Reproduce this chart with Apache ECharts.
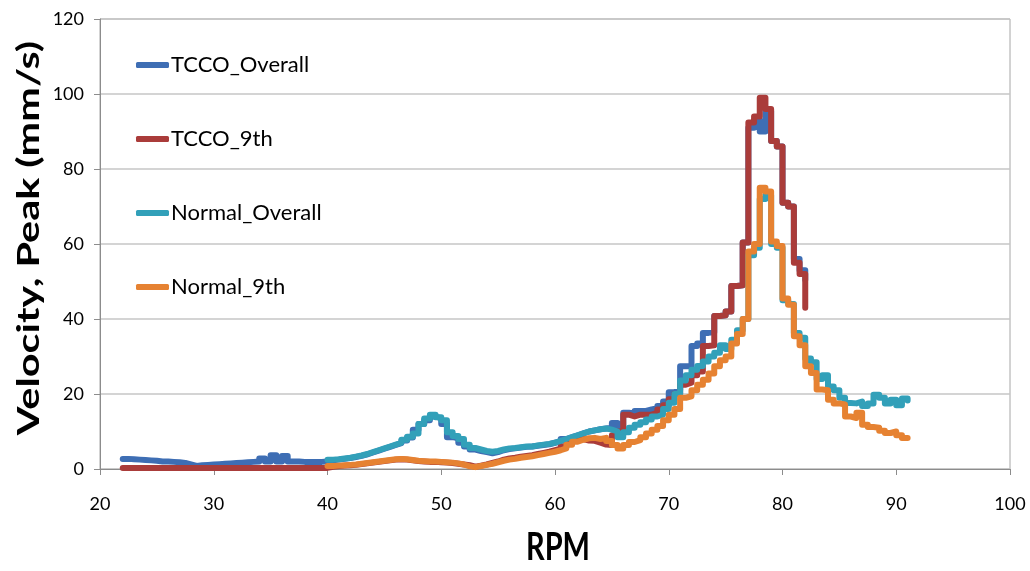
<!DOCTYPE html>
<html>
<head>
<meta charset="utf-8">
<script src="https://cdn.jsdelivr.net/npm/echarts@6/dist/echarts.min.js"></script>
<style>html,body{margin:0;padding:0;background:#fff}#c{width:1030px;height:571px}</style>
</head>
<body>
<div id="c"></div>
<script>
const seriesNames = ['TCCO_Overall', 'TCCO_9th', 'Normal_Overall', 'Normal_9th'];
const xTitle = 'RPM';
const yTitle = 'Velocity, Peak (mm/s)';
const xTicks = [20, 30, 40, 50, 60, 70, 80, 90, 100];
const yTicks = [0, 20, 40, 60, 80, 100, 120];

const rpmTcco = [22,22.5,23,23.5,24,24.5,25,25.5,26,26.5,27,27.5,28,28.5,29,29.5,30,30.5,31,31.5,32,32.5,33,33.5,34,34.5,35,35.5,36,36.5,37,37.5,38,38.5,39,39.5,
  40,40.5,41,41.5,42,42.5,43,43.5,44,44.5,45,45.5,46,46.5,47,47.5,48,48.5,49,49.5,50,50.5,51,51.5,52,52.5,53,53.5,54,54.5,55,55.5,56,56.5,57,57.5,58,58.5,59,59.5,
  60,60.5,61,61.5,62,62.5,63,63.5,64,64.5,65,65.5,66,66.5,67,67.5,68,68.5,69,69.5,70,70.5,71,71.5,72,72.5,73,73.5,74,74.5,75,75.5,76,76.5,77,77.5,78,78.5,79,79.5,
  80,80.5,81,81.5,82];

const tccoOverall = [2.7,2.6,2.5,2.4,2.3,2.2,2.0,2.0,1.9,1.8,1.6,1.2,0.8,1.0,1.1,1.2,1.3,1.4,1.5,1.6,1.7,1.8,1.9,2.0,2.8,2.0,3.7,2.0,3.5,2.0,2.0,1.9,1.9,1.9,1.9,2.0,
  2.3,2.5,2.7,2.9,3.2,3.5,3.9,4.4,4.9,5.4,5.9,6.4,6.9,7.6,8.4,10.5,12.0,13.0,14.0,13.5,12.0,8.5,8.2,7.0,6.0,5.2,4.8,4.5,4.2,4.5,5.0,5.3,5.5,5.7,5.9,6.0,6.2,6.4,6.6,7.0,
  7.4,8.0,8.5,9.0,9.5,10.0,10.3,10.6,10.8,11.0,12.3,10.5,15.0,14.8,15.5,15.5,15.9,16.2,16.8,18.0,20.5,21.0,27.4,27.4,32.8,33.5,36.3,36.5,40.8,41.0,42.0,48.8,49.0,60.4,91.0,93.0,90.0,95.5,87.5,86.0,
  71.0,70.0,56.0,53.0,50.5];

const tccoNinth = [0.3,0.3,0.3,0.3,0.3,0.3,0.3,0.3,0.3,0.3,0.3,0.3,0.3,0.3,0.3,0.3,0.3,0.3,0.3,0.3,0.3,0.3,0.3,0.3,0.3,0.3,0.3,0.3,0.3,0.3,0.3,0.3,0.3,0.3,0.3,0.3,
  0.6,0.8,0.9,1.0,1.1,1.3,1.5,1.7,1.9,2.1,2.3,2.5,2.6,2.5,2.3,2.1,2.0,1.9,1.9,1.8,1.7,1.6,1.4,1.2,1.0,0.6,0.9,1.2,1.6,2.0,2.5,2.8,3.0,3.3,3.5,3.7,4.0,4.3,4.6,5.0,
  5.4,6.0,7.0,7.7,8.0,7.6,7.5,7.0,6.5,6.4,9.0,10.0,14.5,14.0,14.5,14.5,14.5,15.0,15.9,17.0,18.6,20.0,22.5,23.0,25.0,26.0,32.8,33.0,40.8,41.0,42.0,48.8,49.0,60.4,92.4,94.0,99.0,96.0,87.5,86.0,
  71.0,70.0,55.0,52.0,43.0];

const rpmNormal = [40,40.5,41,41.5,42,42.5,43,43.5,44,44.5,45,45.5,46,46.5,47,47.5,48,48.5,49,49.5,50,50.5,51,51.5,52,52.5,53,53.5,54,54.5,55,55.5,56,56.5,57,57.5,58,58.5,59,59.5,
  60,60.5,61,61.5,62,62.5,63,63.5,64,64.5,65,65.5,66,66.5,67,67.5,68,68.5,69,69.5,70,70.5,71,71.5,72,72.5,73,73.5,74,74.5,75,75.5,76,76.5,77,77.5,78,78.5,79,79.5,
  80,80.5,81,81.5,82,82.5,83,83.5,84,84.5,85,85.5,86,86.5,87,87.5,88,88.5,89,89.5,90,90.5,91];

const normalOverall = [2.5,2.6,2.8,3.0,3.3,3.6,4.0,4.5,5.0,5.5,6.0,6.5,7.0,7.8,8.6,9.5,12.0,13.5,14.5,13.8,13.0,9.8,8.8,8.0,6.5,5.6,5.2,4.8,4.6,4.8,5.2,5.5,5.6,5.8,6.0,6.0,6.3,6.5,6.7,7.0,
  7.5,8.0,8.5,9.0,9.5,10.0,10.3,10.6,10.8,10.5,10.0,8.5,9.8,11.0,11.8,12.5,13.2,14.0,14.5,16.0,17.7,20.0,23.6,25.0,26.5,27.5,28.7,30.0,31.0,33.0,32.0,34.5,37.0,40.0,57.0,59.0,72.0,73.0,60.0,59.0,
  45.0,44.0,36.3,35.0,29.5,28.5,24.0,25.0,22.0,21.0,19.0,17.6,17.5,18.0,16.8,17.5,19.8,19.0,17.5,18.5,17.0,18.8,18.3];

const normalNinth = [0.8,0.9,1.0,1.1,1.2,1.4,1.6,1.8,2.0,2.2,2.4,2.6,2.7,2.6,2.4,2.2,2.1,2.0,2.0,1.9,1.8,1.7,1.5,1.2,0.7,0.5,0.8,1.1,1.4,1.8,2.2,2.5,2.7,3.0,3.2,3.4,3.7,4.0,4.3,4.6,
  5.0,5.5,6.5,7.3,7.8,8.2,8.3,8.0,8.3,7.5,6.4,5.5,6.4,7.2,7.7,8.5,9.5,10.5,11.5,13.0,14.5,16.0,19.0,19.4,21.0,22.5,23.8,25.5,27.4,29.0,30.0,33.5,36.0,40.0,58.0,60.0,75.0,74.0,60.7,59.5,
  45.5,43.8,35.4,33.0,27.4,25.6,21.2,21.0,18.5,17.5,17.2,14.0,13.6,15.0,11.8,11.2,11.0,10.2,9.6,10.0,9.0,8.3,8.3];

const colors = ['#3E6EB4', '#AA3C3A', '#32A0B9', '#E68232'];

function zip(xs, ys) { return xs.map((x, i) => [x, ys[i]]); }

const FONT = 'Lato';
const chart = echarts.init(document.getElementById('c'), null, {renderer: 'canvas'});
const dataSets = [zip(rpmTcco, tccoOverall), zip(rpmTcco, tccoNinth), zip(rpmNormal, normalOverall), zip(rpmNormal, normalNinth)];

chart.setOption({
  animation: false,
  backgroundColor: '#fff',
  color: colors,
  grid: {left: 100, top: 19, width: 910, height: 450, show: true, borderColor: '#a6a6a6', borderWidth: 1, backgroundColor: 'transparent'},
  legend: {
    orient: 'vertical', left: 131, top: 49, itemGap: 52,
    itemWidth: 33, itemHeight: 6, icon: 'roundRect',
    textStyle: {fontFamily: FONT, fontSize: 22, color: '#000', padding: [0, 0, 0, -3]},
    data: seriesNames
  },
  graphic: [
    {type: 'text', x: 558, y: 548, scaleY: 1.3,
      style: {text: xTitle, font: 'bold 29px Lato', fill: '#000', textAlign: 'center', textVerticalAlign: 'middle'}},
    {type: 'text', x: 29, y: 238, rotation: Math.PI / 2, scaleX: 1.38,
      style: {text: yTitle, font: 'bold 30px Lato', fill: '#000', textAlign: 'center', textVerticalAlign: 'middle'}}
  ],
  xAxis: {
    type: 'value', min: xTicks[0], max: xTicks[xTicks.length - 1], interval: 10,
    axisLine: {show: true, lineStyle: {color: '#8c8c8c', width: 1}},
    axisTick: {show: true, inside: false, length: 6, lineStyle: {color: '#8c8c8c'}},
    axisLabel: {fontFamily: FONT, fontSize: 18, color: '#000', margin: 26},
    splitLine: {show: false}
  },
  yAxis: {
    type: 'value', min: yTicks[0], max: yTicks[yTicks.length - 1], interval: 20,
    axisLine: {show: true, lineStyle: {color: '#8c8c8c', width: 1}},
    axisTick: {show: true, inside: false, length: 6, lineStyle: {color: '#8c8c8c'}},
    axisLabel: {fontFamily: FONT, fontSize: 18, color: '#000', margin: 16},
    splitLine: {show: true, lineStyle: {color: '#c6c6c6', width: 1.5}}
  },
  series: seriesNames.map((n, i) => ({
    name: n, type: 'line', step: 'end', showSymbol: false, symbol: 'none',
    data: dataSets[i],
    lineStyle: {width: 6, color: colors[i], cap: 'round', join: 'round'},
    itemStyle: {color: colors[i]},
    z: 2 + i
  }))
});
</script>
</body>
</html>
